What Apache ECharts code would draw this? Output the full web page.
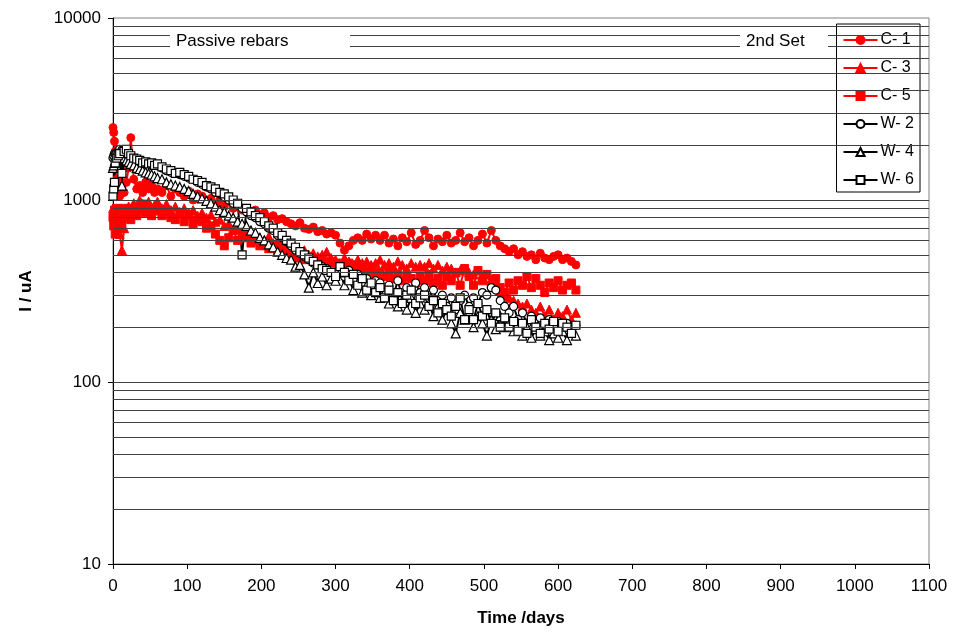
<!DOCTYPE html>
<html>
<head>
<meta charset="utf-8">
<script src="https://cdn.jsdelivr.net/npm/echarts@6/dist/echarts.min.js"></script>
<style>
  html, body { margin: 0; padding: 0; background: #fff; }
  #chart { width: 954px; height: 637px; }
</style>
</head>
<body>
<div id="chart"></div>
<script>
var days = [
    0, 1, 2, 3, 5, 7, 9, 12, 15, 18,
    21, 24, 28, 32, 36, 40, 44, 48, 52, 56,
    60, 66, 72, 78, 84, 90, 96, 102, 108, 114,
    120, 126, 132, 138, 144, 150, 156, 162, 168, 174,
    180, 186, 192, 198, 204, 210, 216, 222, 228, 234,
    240, 246, 252, 258, 264, 270, 276, 282, 288, 294,
    300, 306, 312, 318, 324, 330, 336, 342, 348, 354,
    360, 366, 372, 378, 384, 390, 396, 402, 408, 414,
    420, 426, 432, 438, 444, 450, 456, 462, 468, 474,
    480, 486, 492, 498, 504, 510, 516, 522, 528, 534,
    540, 546, 552, 558, 564, 570, 576, 582, 588, 594,
    600, 606, 612, 618, 624
];

var c1 = [
    2500, 2350, 2100, 1850, 1300, 1150, 1050, 1200, 1100, 1250,
    1500, 2200, 1300, 1150, 1200, 1100, 1250, 1150, 1200, 1100,
    1150, 1100, 1200, 1050, 1150, 1100, 1050, 1120, 1000, 1080,
    1050, 980, 1020, 950, 1000, 920, 980, 900, 940, 880,
    900, 860, 880, 830, 850, 800, 820, 780, 790, 760,
    740, 720, 750, 700, 690, 710, 670, 680, 650, 660,
    640, 580, 530, 560, 600, 620, 600, 650, 610, 640,
    600, 640, 580, 610, 560, 620, 590, 660, 570, 600,
    680, 620, 560, 610, 590, 640, 580, 600, 660, 590,
    620, 560, 600, 650, 580, 680, 600, 560, 540, 520,
    540, 500, 520, 490, 500, 470, 510, 480, 470, 490,
    500, 470, 480, 460, 440
];

var c3 = [
    900, 850, 780, 820, 750, 800, 650, 530, 700, 850,
    920, 880, 960, 900, 1000, 950, 920, 980, 900, 940,
    980, 900, 950, 880, 920, 860, 900, 850, 880, 820,
    850, 800, 830, 760, 780, 720, 740, 690, 700, 660,
    680, 640, 660, 620, 600, 630, 580, 600, 560, 570,
    540, 550, 520, 530, 500, 510, 490, 500, 520, 480,
    470, 450, 480, 460, 440, 470, 450, 460, 440, 450,
    470, 440, 450, 430, 460, 440, 420, 450, 430, 440,
    430, 450, 420, 440, 410, 430, 420, 400, 410, 420,
    400, 390, 410, 380, 390, 360, 340, 320, 300, 290,
    280, 270, 260, 270, 250, 240, 260, 230, 250, 220,
    240, 230, 250, 220, 240
];

var c5 = [
    800, 720, 880, 650, 900, 700, 820, 750, 900, 800,
    850, 780, 900, 820, 880, 950, 850, 900, 820, 870,
    900, 820, 860, 800, 780, 850, 760, 820, 740, 780,
    760, 700, 720, 650, 600, 560, 620, 680, 600, 640,
    620, 580, 600, 560, 580, 540, 560, 520, 540, 500,
    520, 480, 500, 470, 490, 460, 470, 480, 450, 460,
    450, 440, 430, 450, 420, 440, 410, 400, 420, 390,
    400, 380, 410, 370, 390, 360, 380, 370, 350, 380,
    360, 390, 350, 370, 340, 380, 360, 400, 340, 420,
    380, 340, 410, 360, 390, 340, 370, 330, 310, 350,
    320, 360, 340, 380, 330, 370, 340, 310, 350, 330,
    360, 320, 340, 350, 320
];

var w2 = [
    1700, 1750, 1800, 1780, 1820, 1850, 1900, 1880, 1800, 1750,
    1720, 1700, 1680, 1650, 1600, 1620, 1580, 1600, 1550, 1560,
    1540, 1500, 1450, 1420, 1400, 1380, 1350, 1320, 1300, 1250,
    1220, 1180, 1150, 1100, 1080, 1040, 1000, 960, 940, 900,
    860, 820, 800, 760, 740, 700, 680, 640, 620, 590,
    560, 530, 510, 490, 470, 450, 440, 430, 420, 400,
    400, 430, 380, 410, 360, 390, 340, 370, 330, 360,
    350, 310, 340, 300, 360, 290, 330, 300, 350, 310,
    330, 290, 320, 270, 300, 260, 290, 250, 280, 300,
    260, 290, 270, 310, 300, 330, 320, 280, 260, 240,
    260, 220, 240, 210, 230, 200, 225, 205, 220, 200,
    215, 195, 210, 190, 205
];

var w4 = [
    1500, 1550, 1600, 1650, 1700, 1750, 1800, 1200, 1700, 1650,
    1620, 1580, 1550, 1500, 1480, 1450, 1420, 1400, 1380, 1350,
    1320, 1300, 1250, 1220, 1200, 1180, 1150, 1120, 1080, 1050,
    1020, 990, 960, 920, 880, 860, 820, 800, 760, 740,
    720, 680, 660, 620, 600, 570, 550, 520, 500, 480,
    470, 430, 440, 390, 330, 400, 350, 380, 340, 370,
    360, 400, 340, 370, 320, 350, 310, 340, 300, 320,
    290, 310, 270, 300, 260, 280, 250, 290, 240, 270,
    250, 270, 230, 260, 220, 250, 210, 185, 240, 220,
    240, 200, 230, 210, 180, 220, 195, 230, 200, 215,
    190, 210, 180, 200, 175, 195, 180, 190, 170, 185,
    175, 190, 170, 195, 180
];

var w6 = [
    1050, 1150, 1250, 1600, 1700, 1750, 1800, 1400, 1850, 1900,
    1800, 1750, 1700, 1680, 1650, 1600, 1620, 1580, 1600, 1550,
    1580, 1520, 1480, 1450, 1400, 1420, 1380, 1350, 1300, 1280,
    1250, 1200, 1180, 1150, 1100, 1080, 1040, 1000, 960, 500,
    900, 860, 820, 800, 760, 720, 700, 660, 640, 600,
    580, 550, 520, 500, 480, 460, 440, 420, 410, 400,
    380, 430, 400, 360, 390, 340, 370, 320, 350, 310,
    330, 290, 320, 280, 310, 270, 300, 320, 270, 290,
    300, 260, 280, 240, 270, 250, 230, 260, 290, 220,
    250, 220, 270, 230, 250, 210, 240, 200, 225, 200,
    215, 190, 210, 185, 220, 200, 185, 210, 195, 215,
    190, 210, 200, 185, 205
];

// horizontal grid lines of the log axis (1,2..9 of each decade)
var gridValues = [20, 30, 40, 50, 60, 70, 80, 90, 100,
    200, 300, 400, 500, 600, 700, 800, 900, 1000,
    2000, 3000, 4000, 5000, 6000, 7000, 8000, 9000];

function pairs(vals) {
    return days.map(function (d, i) { return [d, vals[i]]; });
}

function makeSeries(name, vals, symbol, red) {
    return {
        name: name,
        type: 'line',
        data: pairs(vals),
        symbol: symbol,
        symbolSize: symbol === 'triangle' ? 9 : 8,
        z: 3,
        lineStyle: { color: red ? '#ff0000' : '#000', width: 2 },
        itemStyle: red
            ? { color: '#ff0000', borderColor: '#ff0000', borderWidth: 1 }
            : { color: '#fff', borderColor: '#000', borderWidth: 1.2 },
        animation: false
    };
}

var dom = document.getElementById('chart');
var myChart = echarts.init(dom);

var font = 'Liberation Sans, Arial, sans-serif';

myChart.setOption({
    animation: false,
    grid: {
        left: 113, right: 25, top: 18, bottom: 73,
        show: true, borderColor: '#808080', borderWidth: 1
    },
    xAxis: {
        type: 'value',
        min: 0, max: 1100, interval: 100,
        name: 'Time /days',
        nameLocation: 'middle',
        nameGap: 46,
        nameTextStyle: { fontFamily: font, fontSize: 17, fontWeight: 'bold', color: '#000' },
        axisLine: { onZero: false, lineStyle: { color: '#000', width: 1 } },
        axisTick: { show: true, length: 5, lineStyle: { color: '#000' } },
        axisLabel: {
            fontFamily: font, fontSize: 17, color: '#000', margin: 14,
            formatter: function (v) { return String(v); }
        },
        splitLine: { show: false }
    },
    yAxis: {
        type: 'log',
        logBase: 10,
        min: 10, max: 10000,
        name: 'I / uA',
        nameLocation: 'middle',
        nameGap: 78,
        nameTextStyle: { fontFamily: font, fontSize: 17, fontWeight: 'bold', color: '#000' },
        axisLine: { show: true, lineStyle: { color: '#000', width: 1 } },
        axisTick: { show: true, length: 5, lineStyle: { color: '#000' } },
        axisLabel: {
            fontFamily: font, fontSize: 17, color: '#000', margin: 12,
            formatter: function (v) { return String(Math.round(v)); }
        },
        splitLine: { show: false }
    },
    legend: {
        orient: 'vertical',
        right: 34,
        top: 24,
        width: 84,
        padding: [8, 6, 4, 6],
        itemGap: 12,
        itemWidth: 34,
        itemHeight: 10,
        backgroundColor: '#fff',
        borderColor: '#000',
        borderWidth: 1,
        textStyle: { fontFamily: font, fontSize: 16, color: '#000', padding: [0, 0, 0, -2] },
        data: ['C- 1', 'C- 3', 'C- 5', 'W- 2', 'W- 4', 'W- 6']
    },
    graphic: [
        {
            type: 'rect', left: 170, top: 30, z: 50,
            shape: { width: 180, height: 28 },
            style: { fill: '#fff' }
        },
        {
            type: 'text', left: 176, top: 33, z: 51,
            style: { text: 'Passive rebars', font: '17px ' + font, fill: '#000' }
        },
        {
            type: 'rect', left: 740, top: 30, z: 50,
            shape: { width: 88, height: 28 },
            style: { fill: '#fff' }
        },
        {
            type: 'text', left: 746, top: 33, z: 51,
            style: { text: '2nd Set', font: '17px ' + font, fill: '#000' }
        }
    ],
    series: [
        {
            name: 'grid',
            type: 'line',
            data: [],
            z: 1,
            markLine: {
                silent: true,
                symbol: ['none', 'none'],
                label: { show: false },
                lineStyle: { color: '#404040', width: 1, type: 'solid' },
                data: gridValues.map(function (v) { return { yAxis: v }; }),
                animation: false
            }
        },
        makeSeries('C- 1', c1, 'circle', true),
        makeSeries('C- 3', c3, 'triangle', true),
        makeSeries('C- 5', c5, 'rect', true),
        makeSeries('W- 2', w2, 'circle', false),
        makeSeries('W- 4', w4, 'triangle', false),
        makeSeries('W- 6', w6, 'rect', false)
    ]
});
</script>
</body>
</html>
